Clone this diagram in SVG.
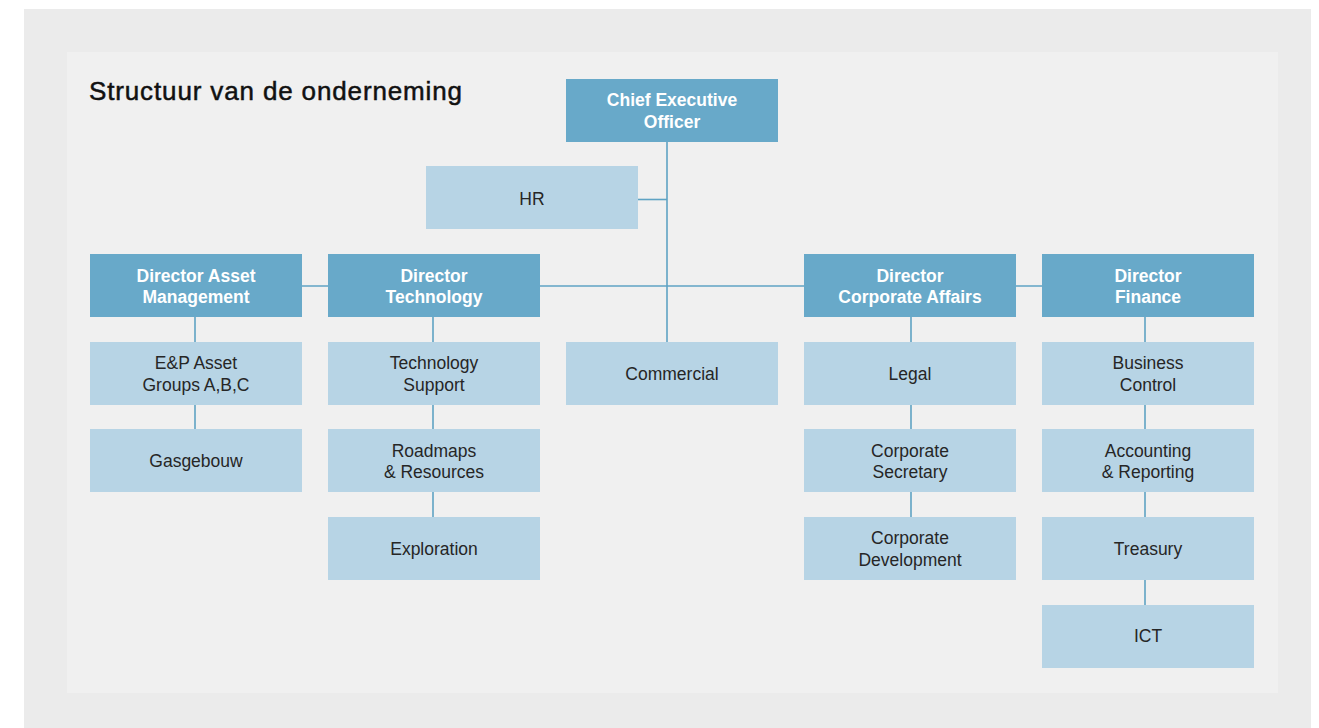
<svg xmlns="http://www.w3.org/2000/svg" width="1319" height="728" viewBox="0 0 1319 728">
<style>
.dark{fill:#68a9c9}
.light{fill:#b7d4e5}
.td{font-family:"Liberation Sans",Arial,sans-serif;font-size:17.5px;font-weight:bold;fill:#ffffff;text-anchor:middle}
.tl{font-family:"Liberation Sans",Arial,sans-serif;font-size:17.5px;fill:#262626;text-anchor:middle}
.c{stroke:#5fa3c4;stroke-width:1.6;fill:none}
</style>
<rect x="0" y="0" width="1319" height="728" fill="#ffffff"/>
<rect x="24" y="9" width="1287" height="719" fill="#ebebeb"/>
<rect x="67" y="52" width="1211" height="641" fill="#f0f0f0"/>
<text x="89" y="100" font-family="'Liberation Sans',Arial,sans-serif" font-size="26" fill="#111111" stroke="#111111" stroke-width="0.5" textLength="373" lengthAdjust="spacing">Structuur van de onderneming</text>
<g id="connectors" class="c">
<path d="M667 142V342"/>
<path d="M638 199.5H667"/>
<path d="M302 286H328M540 286H804M1016 286H1042"/>
<path d="M195 317V342M195 405V429"/>
<path d="M433 317V342M433 405V429M433 492V517"/>
<path d="M911 317V342M911 405V429M911 492V517"/>
<path d="M1145 317V342M1145 405V429M1145 492V517M1145 580V605"/>
</g>
<g id="ceo"><rect class="dark" x="566" y="79" width="212" height="63"/><text class="td" x="672" y="106">Chief Executive</text><text class="td" x="672" y="128">Officer</text></g>
<g id="hr"><rect class="light" x="426" y="166" width="212" height="63"/><text class="tl" x="532" y="205">HR</text></g>
<g id="dir-asset"><rect class="dark" x="90" y="254" width="212" height="63"/><text class="td" x="196" y="282">Director Asset</text><text class="td" x="196" y="303">Management</text></g>
<g id="dir-tech"><rect class="dark" x="328" y="254" width="212" height="63"/><text class="td" x="434" y="282">Director</text><text class="td" x="434" y="303">Technology</text></g>
<g id="dir-corp"><rect class="dark" x="804" y="254" width="212" height="63"/><text class="td" x="910" y="282">Director</text><text class="td" x="910" y="303">Corporate Affairs</text></g>
<g id="dir-fin"><rect class="dark" x="1042" y="254" width="212" height="63"/><text class="td" x="1148" y="282">Director</text><text class="td" x="1148" y="303">Finance</text></g>
<g id="ep"><rect class="light" x="90" y="342" width="212" height="63"/><text class="tl" x="196" y="369">E&amp;P Asset</text><text class="tl" x="196" y="391">Groups A,B,C</text></g>
<g id="gasgebouw"><rect class="light" x="90" y="429" width="212" height="63"/><text class="tl" x="196" y="467">Gasgebouw</text></g>
<g id="tech-support"><rect class="light" x="328" y="342" width="212" height="63"/><text class="tl" x="434" y="369">Technology</text><text class="tl" x="434" y="391">Support</text></g>
<g id="roadmaps"><rect class="light" x="328" y="429" width="212" height="63"/><text class="tl" x="434" y="457">Roadmaps</text><text class="tl" x="434" y="478">&amp; Resources</text></g>
<g id="exploration"><rect class="light" x="328" y="517" width="212" height="63"/><text class="tl" x="434" y="555">Exploration</text></g>
<g id="commercial"><rect class="light" x="566" y="342" width="212" height="63"/><text class="tl" x="672" y="380">Commercial</text></g>
<g id="legal"><rect class="light" x="804" y="342" width="212" height="63"/><text class="tl" x="910" y="380">Legal</text></g>
<g id="corp-sec"><rect class="light" x="804" y="429" width="212" height="63"/><text class="tl" x="910" y="457">Corporate</text><text class="tl" x="910" y="478">Secretary</text></g>
<g id="corp-dev"><rect class="light" x="804" y="517" width="212" height="63"/><text class="tl" x="910" y="544">Corporate</text><text class="tl" x="910" y="566">Development</text></g>
<g id="business-control"><rect class="light" x="1042" y="342" width="212" height="63"/><text class="tl" x="1148" y="369">Business</text><text class="tl" x="1148" y="391">Control</text></g>
<g id="accounting"><rect class="light" x="1042" y="429" width="212" height="63"/><text class="tl" x="1148" y="457">Accounting</text><text class="tl" x="1148" y="478">&amp; Reporting</text></g>
<g id="treasury"><rect class="light" x="1042" y="517" width="212" height="63"/><text class="tl" x="1148" y="555">Treasury</text></g>
<g id="ict"><rect class="light" x="1042" y="605" width="212" height="63"/><text class="tl" x="1148" y="642">ICT</text></g>
</svg>
